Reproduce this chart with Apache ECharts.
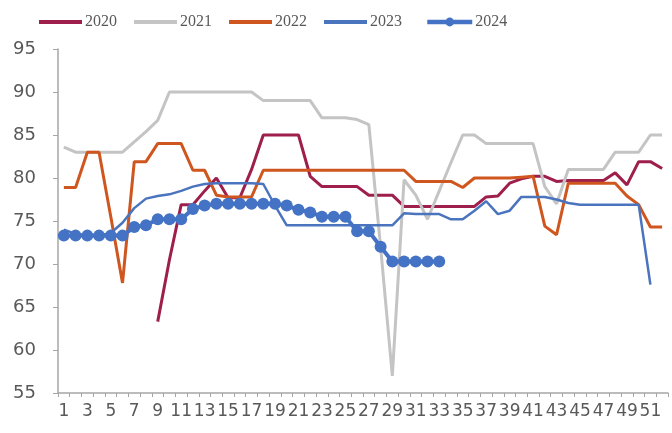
<!DOCTYPE html>
<html>
<head>
<meta charset="utf-8">
<script src="https://cdn.jsdelivr.net/npm/echarts@6/dist/echarts.min.js"></script>
<style>
html,body{margin:0;padding:0;background:#fff;}
#chart{width:672px;height:433px;}
</style>
</head>
<body>
<div id="chart"></div>
<script>
var weeks = [];
for (var i = 1; i <= 52; i++) weeks.push(String(i));

var yTicks = [55, 60, 65, 70, 75, 80, 85, 90, 95];

var s2020 = [null,null,null,null,null,null,null,null,63.3,70.5,
  76.9,76.9,78.5,80,77.7,77.7,81,85,85,85,
  85,80.2,79,79,79,79,78,78,78,76.7,
  76.7,76.7,76.7,76.7,76.7,76.7,77.8,77.9,79.4,79.9,
  80.2,80.2,79.6,79.7,79.7,79.7,79.7,80.6,79.2,81.9,
  81.9,81.1];

var s2021 = [83.6,83,83,83,83,83,84.2,85.4,86.7,90,
  90,90,90,90,90,90,90,89,89,89,
  89,89,87,87,87,86.8,86.2,72,57,79.8,
  78,75.2,78.5,81.8,85,85,84,84,84,84,
  84,79,77,81,81,81,81,83,83,83,
  85,85];

var s2022 = [78.9,78.9,83,83,75.5,67.8,81.9,81.9,84,84,
  84,80.9,80.9,78,77.8,77.8,77.8,80.9,80.9,80.9,
  80.9,80.9,80.9,80.9,80.9,80.9,80.9,80.9,80.9,80.9,
  79.6,79.6,79.6,79.6,78.9,80,80,80,80,80.1,
  80.2,74.4,73.4,79.4,79.4,79.4,79.4,79.4,77.9,76.9,
  74.3,74.3];

var s2023 = [74,73.5,73.3,73.3,73.6,74.8,76.5,77.6,77.9,78.1,
  78.5,79,79.3,79.4,79.4,79.4,79.4,79.3,76.8,74.5,
  74.5,74.5,74.5,74.5,74.5,74.5,74.5,74.5,74.5,75.9,
  75.8,75.8,75.8,75.2,75.2,76.2,77.3,75.8,76.2,77.8,
  77.8,77.8,77.5,77.1,76.9,76.9,76.9,76.9,76.9,76.9,
  67.6,null];

var s2024 = [73.3,73.3,73.3,73.3,73.3,73.3,74.3,74.5,75.2,75.2,
  75.2,76.4,76.8,77,77,77,77,77,77,76.8,
  76.3,76,75.5,75.5,75.5,73.8,73.8,72,70.3,70.3,
  70.3,70.3,70.3];

var names = ['2020','2021','2022','2023','2024'];
var colors = ['#9E1F4C','#C4C4C4','#CF561E','#4A74BE','#4472C4'];

var chart = echarts.init(document.getElementById('chart'));
function lineSeries(name, data, color, width) {
  return {
    name: name, type: 'line', data: data,
    symbol: 'none', showSymbol: false, connectNulls: false,
    lineStyle: { color: color, width: width },
    itemStyle: { color: color },
    emphasis: { disabled: true },
    animation: false
  };
}
var series = [
  lineSeries(names[0], s2020, colors[0], 3),
  lineSeries(names[1], s2021, colors[1], 3),
  lineSeries(names[2], s2022, colors[2], 3),
  lineSeries(names[3], s2023, colors[3], 2.5),
  {
    name: names[4], type: 'line', data: s2024,
    symbol: 'circle', symbolSize: 12, showSymbol: true, showAllSymbol: true,
    lineStyle: { color: colors[4], width: 4 },
    itemStyle: { color: colors[4] },
    emphasis: { disabled: true },
    animation: false
  }
];

var legendText = { fontFamily: 'Liberation Serif', fontSize: 16, color: '#595959', padding: [0,0,0,-2] };

chart.setOption({
  animation: false,
  backgroundColor: '#ffffff',
  legend: [{
    data: names.slice(0, 4),
    icon: 'rect',
    left: 34, top: 9,
    itemWidth: 43, itemHeight: 4, itemGap: 17,
    textStyle: legendText
  }, {
    data: [names[4]],
    left: 420, top: 9,
    itemWidth: 45, itemHeight: 11,
    lineStyle: { width: 4.5, color: colors[4] },
    textStyle: legendText
  }],
  grid: { left: 58, right: 4, top: 49, bottom: 40, containLabel: false },
  xAxis: {
    type: 'category', data: weeks, boundaryGap: true,
    axisLine: { lineStyle: { color: '#A6A6A6', width: 1.5 } },
    axisTick: { show: true, interval: 0, length: 4, lineStyle: { color: '#A6A6A6' } },
    axisLabel: { interval: 1, margin: 10, fontFamily: 'DejaVu Sans', fontSize: 17, color: '#595959' },
    splitLine: { show: false }
  },
  yAxis: {
    type: 'value', min: yTicks[0], max: yTicks[yTicks.length-1], interval: 5,
    axisLine: { show: true, lineStyle: { color: '#A6A6A6', width: 1.5 } },
    axisTick: { show: true, length: 5, lineStyle: { color: '#A6A6A6' } },
    axisLabel: { margin: 22, fontFamily: 'DejaVu Sans', fontSize: 18, color: '#595959' },
    splitLine: { show: false }
  },
  series: series
});
</script>
</body>
</html>
